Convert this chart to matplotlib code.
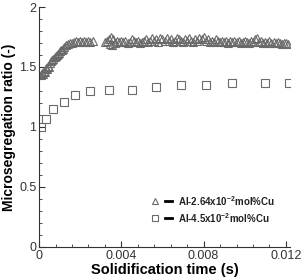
import numpy as np
import matplotlib.pyplot as plt
from matplotlib.ticker import MultipleLocator

plt.rcParams['font.family'] = ['Liberation Sans', 'DejaVu Sans']
plt.rcParams['mathtext.fontset'] = 'custom'
plt.rcParams['mathtext.bf'] = 'Liberation Sans:bold'

# Al-2.64x10^-2 mol%Cu (triangles)
tri_x = [0.0001, 0.00015, 0.0002, 0.00025, 0.0003, 0.00035, 0.0004, 0.00045, 0.0005, 0.00055,
         0.0006, 0.00065, 0.0007, 0.00075, 0.0008, 0.00085, 0.0009, 0.00095, 0.001, 0.00105,
         0.0011, 0.00115, 0.0012, 0.0013, 0.0014, 0.0015, 0.0016, 0.0017, 0.0018, 0.0019,
         0.002, 0.0021, 0.0022, 0.0023, 0.0024, 0.0025, 0.0026,
         0.0032, 0.0033, 0.0034, 0.00345, 0.0035, 0.00355, 0.0036, 0.0037, 0.0038, 0.0039,
         0.004, 0.0041, 0.0042, 0.0043, 0.0044, 0.0045, 0.0046, 0.0047, 0.0048, 0.0049,
         0.005, 0.0051, 0.0052, 0.0053, 0.0054, 0.0055, 0.0056, 0.0057, 0.0058, 0.0059,
         0.006, 0.0061, 0.0062, 0.0063, 0.0064, 0.0065, 0.0066, 0.0067, 0.0068, 0.0069,
         0.007, 0.0071, 0.0072, 0.0073, 0.0074, 0.0075, 0.0076, 0.0077, 0.0078, 0.0079,
         0.008, 0.0081, 0.0082, 0.0083, 0.0084, 0.0085, 0.0086, 0.0087, 0.0088, 0.0089,
         0.009, 0.0091, 0.0092, 0.0093, 0.0094, 0.0095, 0.0096, 0.0097, 0.0098, 0.0099,
         0.01, 0.0101, 0.0102, 0.0103, 0.0104, 0.0105, 0.0106, 0.0107, 0.0108, 0.0109,
         0.011, 0.0111, 0.0112, 0.0113, 0.0114, 0.0115, 0.0116, 0.0117, 0.0118, 0.0119,
         0.012, 0.0121]
tri_y = [1.43, 1.45, 1.44, 1.47, 1.46, 1.49, 1.48, 1.51, 1.50, 1.53,
         1.55, 1.56, 1.57, 1.58, 1.59, 1.60, 1.61, 1.62, 1.63, 1.64,
         1.64, 1.65, 1.67, 1.68, 1.69, 1.70, 1.70, 1.71, 1.72, 1.71,
         1.72, 1.71, 1.72, 1.71, 1.72, 1.71, 1.72,
         1.71, 1.72, 1.73, 1.69, 1.75, 1.68, 1.73, 1.70, 1.72, 1.71,
         1.72, 1.71, 1.72, 1.70, 1.71, 1.73, 1.72, 1.71, 1.72, 1.70,
         1.71, 1.72, 1.73, 1.71, 1.72, 1.74, 1.72, 1.73, 1.71, 1.74,
         1.73, 1.72, 1.74, 1.72, 1.73, 1.71, 1.72, 1.74, 1.73, 1.72,
         1.71, 1.73, 1.72, 1.74, 1.72, 1.71, 1.73, 1.72, 1.74, 1.73,
         1.75, 1.72, 1.73, 1.71, 1.72, 1.71, 1.73, 1.72, 1.71, 1.72,
         1.71, 1.72, 1.70, 1.72, 1.71, 1.72, 1.71, 1.72, 1.70, 1.71,
         1.72, 1.71, 1.70, 1.72, 1.71, 1.73, 1.74, 1.71, 1.72, 1.70,
         1.71, 1.70, 1.72, 1.70, 1.71, 1.70, 1.71, 1.70, 1.69, 1.70,
         1.70, 1.69]

# Al-4.5x10^-2 mol%Cu (squares)
sq_x = [0.0001, 0.00035, 0.0007, 0.0012, 0.00175, 0.0025, 0.0034, 0.0045,
        0.0057, 0.0069, 0.0081, 0.0094, 0.011, 0.01215]
sq_y = [1.00, 1.07, 1.15, 1.21, 1.27, 1.30, 1.31, 1.31,
        1.33, 1.35, 1.35, 1.37, 1.37, 1.37]

labels = [r'Al-2.64x10$^{\mathbf{-2}}$mol%Cu', r'Al-4.5x10$^{\mathbf{-2}}$mol%Cu']
markers = ['^', 's']

edge = '#6a6a6a'

fig = plt.figure(figsize=(3.03, 2.80), dpi=100)
ax = fig.add_axes([0.129, 0.118, 0.828, 0.857])

ax.plot(tri_x, tri_y, linestyle='none', marker='^', markersize=5.5,
        markerfacecolor='none', markeredgecolor=edge, markeredgewidth=0.8)
ax.plot(sq_x, sq_y, linestyle='none', marker='s', markersize=6,
        markerfacecolor='none', markeredgecolor=edge, markeredgewidth=0.8)

ax.set_xlim(0, 0.0122)
ax.set_ylim(0, 2)
ax.xaxis.set_minor_locator(MultipleLocator(0.0008))
ax.yaxis.set_minor_locator(MultipleLocator(0.1))
ax.set_xticks([0, 0.004, 0.008, 0.012])
ax.set_xticklabels(['0', '0.004', '0.008', '0.012'])
ax.set_yticks([0, 0.5, 1, 1.5, 2])
ax.set_yticklabels(['0', '0.5', '1', '1.5', '2'])

ax.spines['top'].set_visible(False)
ax.spines['right'].set_visible(False)
ax.spines['left'].set_color('#333333')
ax.spines['bottom'].set_color('#333333')
ax.tick_params(which='both', direction='in', colors='#333333', labelsize=9, pad=2)
ax.tick_params(which='major', length=4)
ax.tick_params(which='minor', length=2)

ax.set_xlabel('Solidification time (s)', fontsize=10.5, fontweight='bold', labelpad=1)
ax.set_ylabel('Microsegregation ratio (-)', fontsize=10, fontweight='bold', labelpad=2)

# legend drawn by hand: marker, short black dash, bold text
for i, lab in enumerate(labels):
    yy = 0.19 - i * 0.068
    ax.plot([0.462], [yy], transform=ax.transAxes, linestyle='none',
            marker=markers[i], markersize=5, markerfacecolor='none',
            markeredgecolor=edge, markeredgewidth=0.8)
    ax.plot([0.5, 0.53], [yy, yy], transform=ax.transAxes, color='black', linewidth=2)
    ax.text(0.553, yy, lab, transform=ax.transAxes, fontsize=7, fontweight='bold',
            va='center', ha='left', color='#222222')

fig.savefig('out.png', dpi=100)
